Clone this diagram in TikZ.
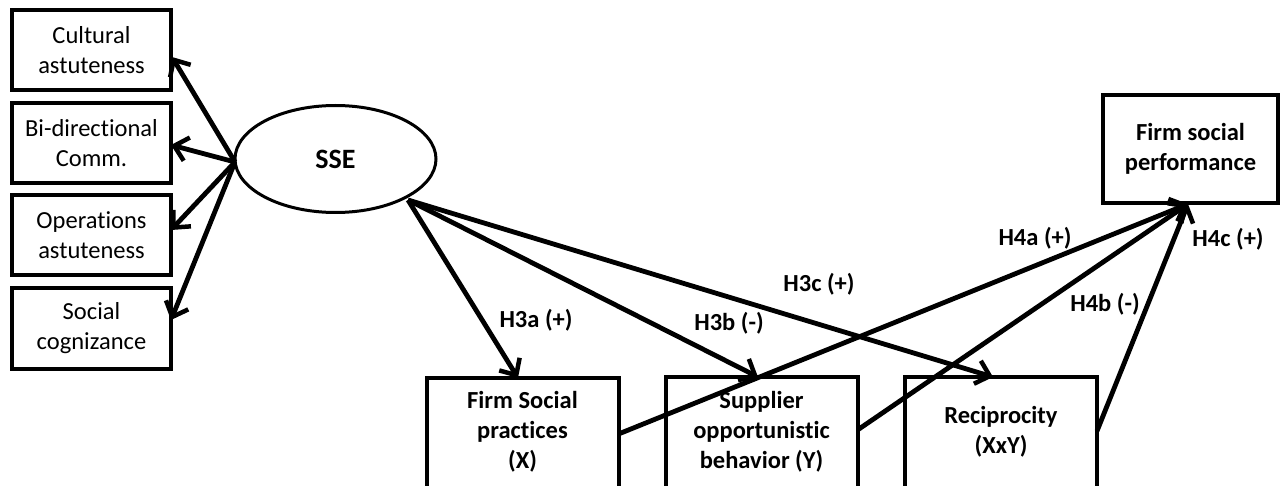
\documentclass[tikz,border=0pt]{standalone}
\usepackage{fontspec}
\setmainfont{Carlito}[Ligatures={NoCommon,TeX}]
\usetikzlibrary{shapes.geometric,arrows.meta}
\begin{document}
\begin{tikzpicture}[x=1pt,y=-1pt,
  every node/.style={inner sep=0pt, outer sep=0pt},
  mbox/.style={draw, line width=4pt, align=center, font=\fontsize{24.5}{30}\selectfont},
  sidebox/.style={mbox, minimum width=159pt, minimum height=80pt},
  bottombox/.style={mbox, minimum width=192pt, minimum height=130pt},
  link/.style={line width=4.8pt, -{Straight Barb[length=13pt,width=24pt,line width=4.5pt]}},
  hlabel/.style={font=\fontsize{24.5}{30}\selectfont\bfseries}]
\useasboundingbox (0,0) rectangle (1280,486);
\clip (0,0) rectangle (1280,486);
% indicator boxes
\node[sidebox] (cult) at (91.5,50) {Cultural\\astuteness};
\node[sidebox] (bidir) at (91.5,143.5) {Bi-directional\\Comm.};
\node[sidebox] (oper) at (91.5,235) {Operations\\astuteness};
\node[sidebox] (soc) at (91.5,328.5) {Social\\cognizance};
% latent construct
\node[draw, ellipse, line width=3pt, minimum width=201pt, minimum height=107pt,
      font=\fontsize{28}{32}\selectfont\bfseries] (sse) at (335.5,159) {SSE};
% constructs in the lower row (they run past the lower edge)
\node[bottombox, anchor=north] (fsp) at (522.5,378) {};
\node[hlabel, align=center] (fsptxt) at (522.5,432) {Firm Social\\practices\\(X)};
\node[bottombox, anchor=north] (sob) at (761.5,377) {};
\node[hlabel, align=center] (sobtxt) at (761.5,432) {Supplier\\opportunistic\\behavior (Y)};
\node[bottombox, anchor=north] (rec) at (1001,377) {};
\node[hlabel, align=center] (rectxt) at (1001,432) {Reciprocity\\(XxY)};
% outcome
\node[mbox, minimum width=175pt, minimum height=108pt, font=\fontsize{24.5}{30}\selectfont\bfseries] (fsperf) at (1190.5,149) {Firm social\\performance};
% measurement arrows
\coordinate (ssew) at (235,162);
\draw[link] (ssew) -- (172,57);
\draw[link] (ssew) -- (bidir.east |- 0,145);
\draw[link] (ssew) -- (oper.east |- 0,230);
\draw[link] (ssew) -- (soc.east |- 0,320);
% structural arrows
\coordinate (sseo) at (408,200);
\draw[link] (sseo) -- (fsp.north -| 518,0);
\draw[link] (sseo) -- (sob.north -| 758,0);
\draw[link] (sseo) -- (rec.north -| 993,0);
\coordinate (perfin) at (1188,204);
\draw[link] (fsp.east |- 0,434) -- (perfin);
\draw[link] (sob.east |- 0,430) -- (perfin);
\draw[link] (rec.east |- 0,431) -- (perfin);
% path labels
\node[hlabel] (l3a) at (536,320) {H3a (+)};
\node[hlabel] (l3b) at (729,323) {H3b (-)};
\node[hlabel] (l3c) at (819,284) {H3c (+)};
\node[hlabel] (l4a) at (1035,238) {H4a (+)};
\node[hlabel] (l4b) at (1105,304) {H4b (-)};
\node[hlabel] (l4c) at (1228,239) {H4c (+)};
\end{tikzpicture}
\end{document}
